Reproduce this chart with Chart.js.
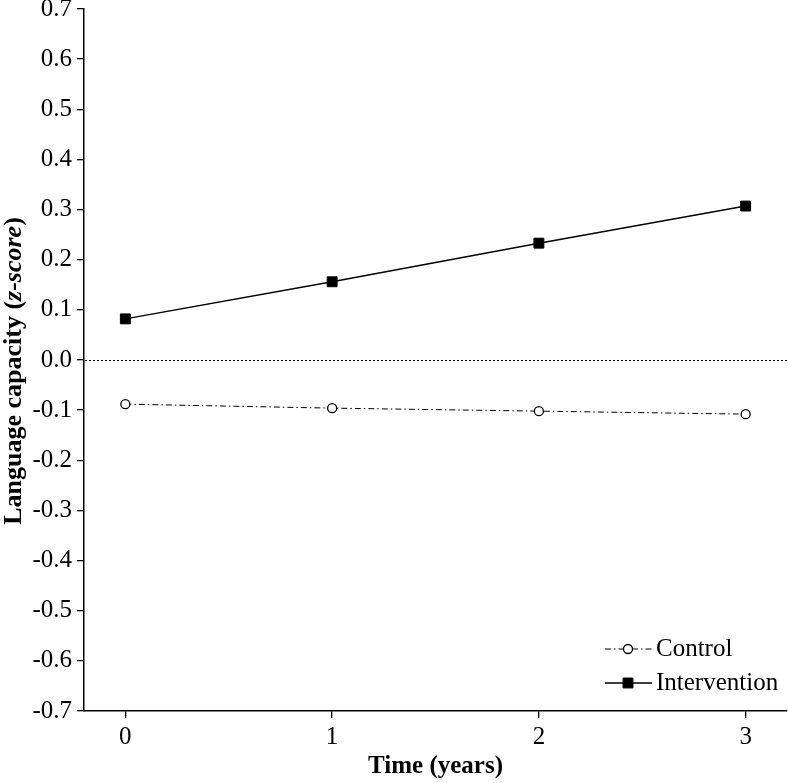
<!DOCTYPE html>
<html>
<head>
<meta charset="utf-8">
<script src="https://cdn.jsdelivr.net/npm/chart.js@4.4.0/dist/chart.umd.min.js"></script>
<style>
html,body{margin:0;padding:0;background:#fff;}
#wrap{width:788px;height:783px;position:relative;}
</style>
</head>
<body>
<div id="wrap"><canvas id="c" width="788" height="783"></canvas></div>
<script>
const timePoints = [0, 1, 2, 3];
const controlValues = [-0.088, -0.096, -0.102, -0.108];
const interventionValues = [0.082, 0.156, 0.233, 0.307];
const yTicks = [-0.7,-0.6,-0.5,-0.4,-0.3,-0.2,-0.1,0.0,0.1,0.2,0.3,0.4,0.5,0.6,0.7];
const xTicks = [0, 1, 2, 3];
const seriesNames = ['Control', 'Intervention'];
const xTitle = 'Time (years)';
const yTitleParts = [['Language capacity (', 'bold'], ['z-score', 'italic bold'], [')', 'bold']];

const SERIF = '"Liberation Serif", "DejaVu Serif", serif';

const refLine = {
  id: 'refLine',
  beforeDatasetsDraw(chart) {
    const {ctx, chartArea, scales} = chart;
    const y = Math.round(scales.y.getPixelForValue(0)) + 0.5;
    ctx.save();
    ctx.strokeStyle = '#000';
    ctx.lineWidth = 1;
    ctx.setLineDash([2, 2]);
    ctx.beginPath();
    ctx.moveTo(chartArea.left + 1, y);
    ctx.lineTo(chartArea.right, y);
    ctx.stroke();
    ctx.restore();
  }
};

const titles = {
  id: 'titles',
  afterDraw(chart) {
    const {ctx, chartArea} = chart;
    ctx.save();
    ctx.fillStyle = '#000';
    ctx.font = 'bold 25px ' + SERIF;
    ctx.textAlign = 'center';
    ctx.textBaseline = 'middle';
    ctx.fillText(xTitle, (chartArea.left + chartArea.right) / 2, 767);
    ctx.translate(14, 371);
    ctx.rotate(-Math.PI / 2);
    let total = 0;
    const widths = yTitleParts.map(([t, s]) => { ctx.font = s + ' 26px ' + SERIF; const w = ctx.measureText(t).width; total += w; return w; });
    let x = -total / 2;
    ctx.textAlign = 'left';
    yTitleParts.forEach(([t, s], i) => { ctx.font = s + ' 26px ' + SERIF; ctx.fillText(t, x, 0); x += widths[i]; });
    ctx.restore();
  }
};

const legendPlugin = {
  id: 'customLegend',
  afterDraw(chart) {
    const {ctx} = chart;
    const rows = [649, 683];
    ctx.save();
    chart.data.datasets.forEach((ds, i) => {
      const y = rows[i];
      ctx.strokeStyle = '#000';
      ctx.lineWidth = ds.borderWidth;
      ctx.setLineDash(ds.borderDash || []);
      ctx.beginPath();
      ctx.moveTo(605, y);
      ctx.lineTo(652, y);
      ctx.stroke();
      ctx.setLineDash([]);
      ctx.fillStyle = ds.pointBackgroundColor;
      ctx.strokeStyle = '#000';
      ctx.lineWidth = ds.pointBorderWidth;
      ctx.beginPath();
      if (ds.pointStyle === 'circle') {
        ctx.arc(628, y, ds.pointRadius, 0, Math.PI * 2);
      } else {
        const s = ds.pointRadius * Math.SQRT1_2;
        ctx.rect(628 - s, y - s, 2 * s, 2 * s);
      }
      ctx.fill();
      ctx.stroke();
      ctx.fillStyle = '#000';
      ctx.font = '25px ' + SERIF;
      ctx.textAlign = 'left';
      ctx.textBaseline = 'middle';
      ctx.fillText(ds.label, 656, y);
    });
    ctx.restore();
  }
};

new Chart(document.getElementById('c'), {
  type: 'line',
  data: {
    datasets: [
      {
        label: seriesNames[0],
        data: timePoints.map((t, i) => ({x: t, y: controlValues[i]})),
        borderColor: '#000',
        borderWidth: 1,
        borderDash: [6, 3, 1.5, 3],
        pointStyle: 'circle',
        pointRadius: 4.5,
        pointBorderWidth: 1.3,
        pointBackgroundColor: '#fff',
        pointBorderColor: '#000',
        tension: 0
      },
      {
        label: seriesNames[1],
        data: timePoints.map((t, i) => ({x: t, y: interventionValues[i]})),
        borderColor: '#000',
        borderWidth: 1.5,
        pointStyle: 'rect',
        pointRadius: 7,
        pointBorderWidth: 1,
        pointBackgroundColor: '#000',
        pointBorderColor: '#000',
        tension: 0
      }
    ]
  },
  options: {
    responsive: false,
    animation: false,
    layout: {autoPadding: false, padding: {top: 9, right: 1, left: 0, bottom: 0}},
    plugins: {legend: {display: false}, tooltip: {enabled: false}},
    scales: {
      x: {
        type: 'linear',
        min: -0.2,
        max: 3.2,
        afterBuildTicks(scale) { scale.ticks = xTicks.map(v => ({value: v})); },
        afterFit(scale) { scale.height = 72; scale.paddingLeft = 0; scale.paddingRight = 0; },
        border: {display: true, color: '#000', width: 1.5},
        grid: {drawOnChartArea: false, drawTicks: true, tickLength: 7, color: '#000', lineWidth: 1.3},
        ticks: {color: '#000', font: {family: SERIF, size: 25}, padding: 4, maxRotation: 0,
          callback: v => String(v)}
      },
      y: {
        type: 'linear',
        min: -0.7,
        max: 0.7,
        afterBuildTicks(scale) { scale.ticks = yTicks.map(v => ({value: v})); },
        afterFit(scale) { scale.width = 84; scale.paddingTop = 0; scale.paddingBottom = 0; },
        border: {display: true, color: '#000', width: 1.5},
        grid: {drawOnChartArea: false, drawTicks: true, tickLength: 7, color: '#000', lineWidth: 1.3},
        ticks: {color: '#000', font: {family: SERIF, size: 25}, padding: 5,
          callback: v => v.toFixed(1)}
      }
    }
  },
  plugins: [refLine, titles, legendPlugin]
});
</script>
</body>
</html>
